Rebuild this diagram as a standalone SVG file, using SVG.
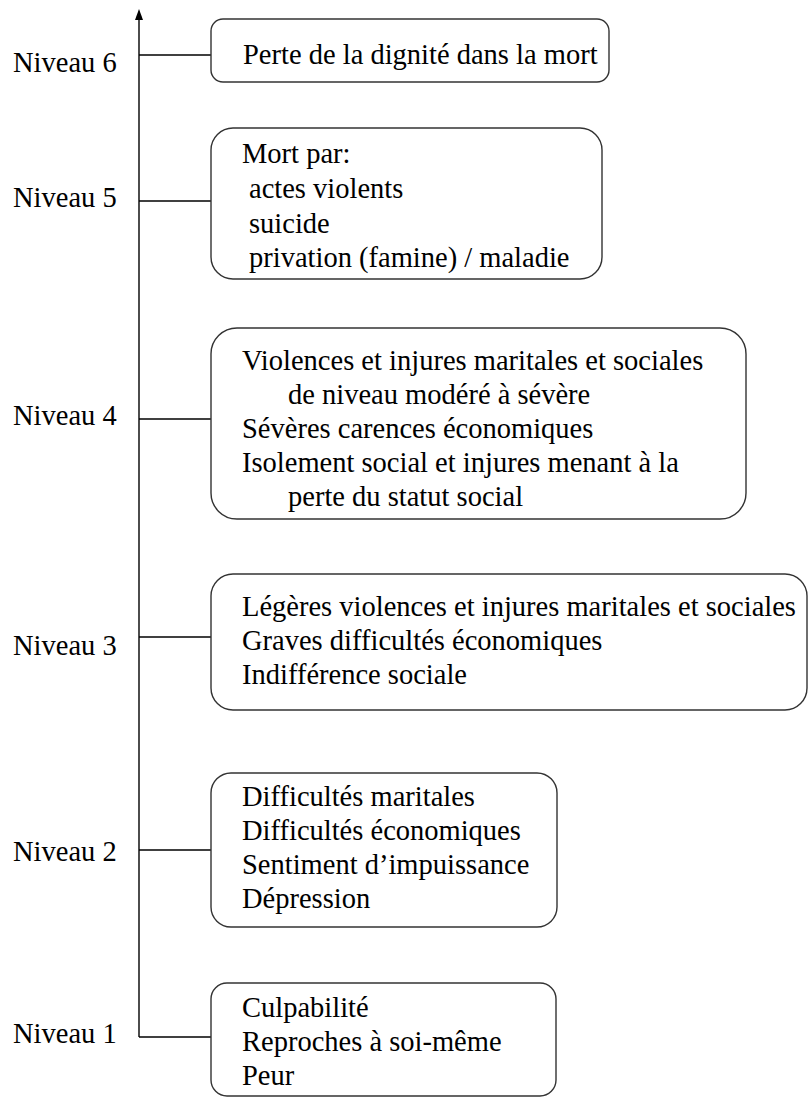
<svg xmlns="http://www.w3.org/2000/svg" width="808" height="1097" viewBox="0 0 808 1097">
<style>
  .box { fill: #ffffff; stroke: #333333; stroke-width: 1.4; }
  .conn { stroke: #000000; stroke-width: 1.4; fill: none; }
  text { font-family: "Liberation Serif", "Times New Roman", serif; font-size: 28.5px; fill: #000000; }
</style>
<rect x="0" y="0" width="808" height="1097" fill="#ffffff"/>
<g id="connectors">
  <line class="conn" x1="139" y1="1037" x2="139" y2="18"/>
  <polygon points="139,9 135,20 143,20" fill="#000000"/>
  <line class="conn" x1="139" y1="55" x2="211" y2="55"/>
  <line class="conn" x1="139" y1="201" x2="211" y2="201"/>
  <line class="conn" x1="139" y1="419" x2="211" y2="419"/>
  <line class="conn" x1="139" y1="637" x2="211" y2="637"/>
  <line class="conn" x1="139" y1="850" x2="211" y2="850"/>
  <line class="conn" x1="139" y1="1037" x2="211" y2="1037"/>
</g>
<g id="labels">
  <text x="13" y="72">Niveau 6</text>
  <text x="13" y="207">Niveau 5</text>
  <text x="13" y="425">Niveau 4</text>
  <text x="13" y="655">Niveau 3</text>
  <text x="13" y="861">Niveau 2</text>
  <text x="13" y="1043">Niveau 1</text>
</g>
<g id="level6">
  <rect class="box" x="211" y="19" width="398" height="63" rx="12"/>
  <text x="243" y="64">Perte de la dignité dans la mort</text>
</g>
<g id="level5">
  <rect class="box" x="211" y="128" width="391" height="151" rx="22"/>
  <text x="242" y="163">Mort par:</text>
  <text x="249" y="198">actes violents</text>
  <text x="249" y="233">suicide</text>
  <text x="249" y="267">privation (famine) / maladie</text>
</g>
<g id="level4">
  <rect class="box" x="211" y="328" width="535" height="191" rx="26"/>
  <text x="242" y="370">Violences et injures maritales et sociales</text>
  <text x="288" y="404">de niveau modéré à sévère</text>
  <text x="242" y="438">Sévères carences économiques</text>
  <text x="242" y="472">Isolement social et injures menant à la</text>
  <text x="288" y="506">perte du statut social</text>
</g>
<g id="level3">
  <rect class="box" x="211" y="574" width="596" height="136" rx="22"/>
  <text x="242" y="616">Légères violences et injures maritales et sociales</text>
  <text x="242" y="650">Graves difficultés économiques</text>
  <text x="242" y="684">Indifférence sociale</text>
</g>
<g id="level2">
  <rect class="box" x="211" y="773" width="346" height="154" rx="20"/>
  <text x="242" y="806">Difficultés maritales</text>
  <text x="242" y="840">Difficultés économiques</text>
  <text x="242" y="874">Sentiment d’impuissance</text>
  <text x="242" y="908">Dépression</text>
</g>
<g id="level1">
  <rect class="box" x="211" y="983" width="345" height="113" rx="16"/>
  <text x="242" y="1017">Culpabilité</text>
  <text x="242" y="1051">Reproches à soi-même</text>
  <text x="242" y="1085">Peur</text>
</g>
</svg>
